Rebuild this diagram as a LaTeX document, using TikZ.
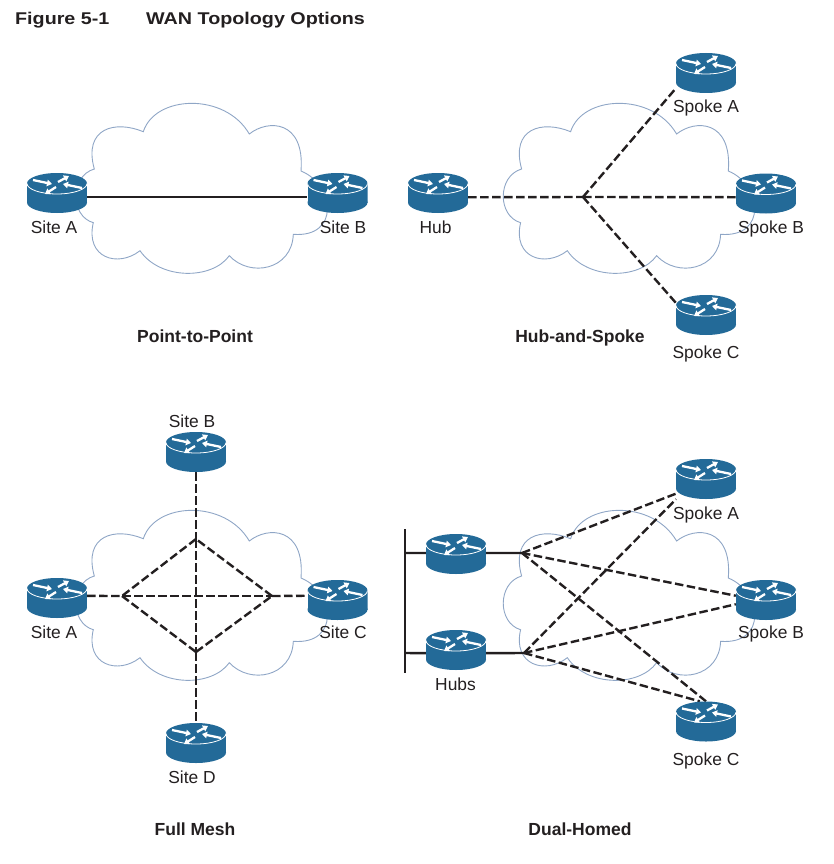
\documentclass[tikz,border=0pt]{standalone}
\usepackage{fontspec}
\setmainfont{Liberation Sans}
\newfontfamily\titlefont[FakeStretch=1.16]{Liberation Sans}
\usetikzlibrary{arrows.meta,backgrounds}
\definecolor{routerblue}{HTML}{236A98}
\definecolor{cloudblue}{HTML}{8FA6C6}
\definecolor{inkblack}{HTML}{231F20}
\tikzset{
myarrow/.style={
  white,
  line width=2.3pt,
  -{Triangle[width=6.5pt,length=5pt]}
  }
}
\tikzset{
myrouter/.style={
  rectangle,
  inner sep=0pt,
  minimum width=60pt,
  minimum height=40pt,
  path picture={
    \begin{scope}[shift={(path picture bounding box.center)}]
    \fill[routerblue] (0,9.5) ellipse [x radius=30, y radius=10.5];
    \fill[routerblue] (-30,-9.5) rectangle (30,9.5);
    \fill[routerblue] (0,-9.5) ellipse [x radius=30, y radius=10.5];
    \draw[white, line width=0.8pt] (-30,-9.5) arc [start angle=180, end angle=0, x radius=30, y radius=10.5];
    \draw[myarrow] (-24,-13) -- (-5,-9);
    \draw[myarrow] (1,-11) -- (12,-17);
    \draw[myarrow] (25,-5) -- (6,-9);
    \draw[myarrow] (-1,-6) -- (-12,1);
    \end{scope}
    }
  }
}
\tikzset{
mylabel/.style={
  anchor=base,
  inner sep=0pt,
  text=inkblack,
  font=\fontsize{17.4}{20}\selectfont
  }
}
\tikzset{
mycaption/.style={
  mylabel,
  font=\fontsize{17.5}{20}\selectfont\bfseries
  }
}
\tikzset{
mytitle/.style={
  anchor=base west,
  inner sep=0pt,
  text=inkblack,
  font=\fontsize{17}{20}\selectfont\titlefont\bfseries
  }
}
\tikzset{
myline/.style={
  line width=2.4pt,
  color=inkblack
  }
}
\tikzset{
mydash/.style={
  myline,
  dash pattern=on 8.5pt off 3.5pt
  }
}
\newcommand{\wancloud}[1]{
  \draw[cloudblue, line width=0.9pt, shift={(#1)}]
    (94.3,169) .. controls (83,128) and (115,120) .. (143.3,131.7)
    .. controls (155,95) and (225,92) .. (249.3,134)
    .. controls (268,119) and (305,120) .. (301,171)
    .. controls (335,185) and (340,238) .. (293.3,234.3)
    .. controls (292,270) and (250,278) .. (229.3,255.7)
    .. controls (212,280) and (160,280) .. (140,250.7)
    .. controls (118,268) and (85,258) .. (93.3,222.7)
    .. controls (70,216) and (70,176) .. (94.3,169) -- cycle;
}

\begin{document}
\begin{tikzpicture}[x=1pt,y=-1pt]
    \useasboundingbox (0,0) rectangle (833,864);

    % title
    \node[mytitle] (fig) at (15,24.5) {Figure 5-1};
    \node[mytitle] (figname) at (146,24.5) {WAN Topology Options};

    % point-to-point part
    \node[myrouter] (ptpA) at (57,193) {};
    \node[myrouter] (ptpB) at (337.5,193) {};
    \node[mylabel] (ptpAtxt) at (54,233) {Site A};
    \node[mylabel] (ptpBtxt) at (343,233) {Site B};
    \node[mycaption] (ptpcap) at (195,342) {Point-to-Point};

    % hub-and-spoke part
    \coordinate (hsjoin) at (583,197);
    \node[myrouter] (hshub) at (438,193) {};
    \node[myrouter] (hsA) at (706,73) {};
    \node[myrouter] (hsB) at (766,193.5) {};
    \node[myrouter] (hsC) at (706,315) {};
    \node[mylabel] (hshubtxt) at (435.5,233) {Hub};
    \node[mylabel] (hsAtxt) at (706,113) {Spoke A};
    \node[mylabel] (hsBtxt) at (771,233) {Spoke B};
    \node[mylabel] (hsCtxt) at (706,358) {Spoke C};
    \node[mycaption] (hscap) at (580,342) {Hub-and-Spoke};

    % full mesh part
    \coordinate (fmtop) at (196,539);
    \coordinate (fmleft) at (122,596);
    \coordinate (fmright) at (272,596);
    \coordinate (fmbot) at (196,652);
    \node[myrouter] (fmA) at (57,598) {};
    \node[myrouter] (fmB) at (196,452) {};
    \node[myrouter] (fmC) at (337.5,600) {};
    \node[myrouter] (fmD) at (196,743) {};
    \node[mylabel] (fmAtxt) at (54,638) {Site A};
    \node[mylabel] (fmBtxt) at (192,427) {Site B};
    \node[mylabel] (fmCtxt) at (343,638) {Site C};
    \node[mylabel] (fmDtxt) at (192,783) {Site D};
    \node[mycaption] (fmcap) at (195,835) {Full Mesh};

    % dual-homed part
    \coordinate (dhbustop) at (405,529);
    \coordinate (dhbusbot) at (405,673);
    \coordinate (dhstubA) at (405,553);
    \coordinate (dhstubB) at (405,653);
    \coordinate (dhjoinA) at (522,553);
    \coordinate (dhjoinB) at (524,653);
    \node[myrouter] (dhhubA) at (456,554) {};
    \node[myrouter] (dhhubB) at (456,650) {};
    \node[myrouter] (dhA) at (706,479) {};
    \node[myrouter] (dhB) at (766,600) {};
    \node[myrouter] (dhC) at (706,721.5) {};
    \node[mylabel] (dhhubtxt) at (455.5,690) {Hubs};
    \node[mylabel] (dhAtxt) at (706,519) {Spoke A};
    \node[mylabel] (dhBtxt) at (771,638) {Spoke B};
    \node[mylabel] (dhCtxt) at (706,765) {Spoke C};
    \node[mycaption] (dhcap) at (580,835) {Dual-Homed};

    \begin{scope}[on background layer]
    % clouds
    \wancloud{0,0}
    \wancloud{427.3,0}
    \wancloud{0,407}
    \wancloud{427.3,407}

    % point-to-point edges
    \draw[myline] (ptpA.-8) -- (ptpB.188);

    % hub-and-spoke edges
    \draw[mydash] (hshub.-8) -- (hsjoin);
    \draw[mydash] (hsjoin) -- (hsA.207);
    \draw[mydash] (hsjoin) -- (hsB.187);
    \draw[mydash] (hsjoin) -- (hsC.158);

    % full mesh edges
    \draw[mydash] (fmB.south) -- (fmtop);
    \draw[mydash] (fmtop) -- (fmbot);
    \draw[mydash] (fmbot) -- (fmD.north);
    \draw[mydash] (fmA.4) -- (fmleft);
    \draw[mydash] (fmleft) -- (fmright);
    \draw[mydash] (fmright) -- (fmC.172);
    \draw[mydash] (fmtop) -- (fmleft);
    \draw[mydash] (fmleft) -- (fmbot);
    \draw[mydash] (fmbot) -- (fmright);
    \draw[mydash] (fmright) -- (fmtop);

    % dual-homed edges
    \draw[myline] (dhbustop) -- (dhbusbot);
    \draw[myline] (dhstubA) -- (dhhubA.178);
    \draw[myline] (dhstubB) -- (dhhubB.186);
    \draw[myline] (dhhubA.2) -- (dhjoinA);
    \draw[myline] (dhhubB.-6) -- (dhjoinB);
    \draw[mydash] (dhjoinA) -- (dhA.206);
    \draw[mydash] (dhjoinA) -- (dhB.172);
    \draw[mydash] (dhjoinA) -- (dhC.north);
    \draw[mydash] (dhjoinB) -- (dhA.214);
    \draw[mydash] (dhjoinB) -- (dhB.188);
    \draw[mydash] (dhjoinB) -- (dhC.107);
    \end{scope}
\end{tikzpicture}
\end{document}
